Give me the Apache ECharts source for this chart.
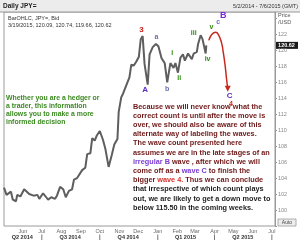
<!DOCTYPE html>
<html>
<head>
<meta charset="utf-8">
<script src="https://cdn.jsdelivr.net/npm/echarts@6/dist/echarts.min.js"></script>
<style>
  html, body { margin: 0; padding: 0; background: #fff; }
  #chart { width: 300px; height: 243px; }
</style>
</head>
<body>
<div id="chart"></div>
<script>
// daily JPY= closes (roughly two points a week)
const priceDates = [
  '2014-05-02', '2014-05-06', '2014-05-09', '2014-05-13', '2014-05-16', '2014-05-21', '2014-05-23', '2014-05-28',
  '2014-06-03', '2014-06-06', '2014-06-11', '2014-06-13', '2014-06-18', '2014-06-24', '2014-06-27',
  '2014-07-03', '2014-07-08', '2014-07-11', '2014-07-16', '2014-07-22', '2014-07-25', '2014-07-30',
  '2014-08-04', '2014-08-08', '2014-08-13', '2014-08-18', '2014-08-21', '2014-08-26', '2014-08-29',
  '2014-09-03', '2014-09-08', '2014-09-11', '2014-09-16', '2014-09-19', '2014-09-23', '2014-09-26',
  '2014-10-01', '2014-10-06', '2014-10-10', '2014-10-15', '2014-10-20', '2014-10-24', '2014-10-29', '2014-10-31',
  '2014-11-04', '2014-11-07', '2014-11-12', '2014-11-17', '2014-11-20', '2014-11-24', '2014-11-28',
  '2014-12-02', '2014-12-05', '2014-12-08', '2014-12-11', '2014-12-16', '2014-12-19', '2014-12-24', '2014-12-29',
  '2015-01-02', '2015-01-07', '2015-01-12', '2015-01-16', '2015-01-21', '2015-01-26', '2015-01-29',
  '2015-02-02', '2015-02-06', '2015-02-10', '2015-02-13', '2015-02-18', '2015-02-24', '2015-02-27',
  '2015-03-04', '2015-03-06', '2015-03-10', '2015-03-13', '2015-03-18', '2015-03-19',
]
const priceValues = [
  102.8, 101.9, 102.0, 102.3, 101.3, 101.1, 101.9, 101.7,
  102.6, 102.5, 102.0, 102.1, 101.8, 101.9, 101.4,
  102.1, 101.6, 101.3, 101.6, 101.4, 101.8, 102.9,
  102.6, 101.6, 102.4, 102.6, 103.8, 104.0, 103.9,
  105.0, 105.3, 107.0, 107.1, 109.0, 108.7, 109.3,
  109.9, 108.8, 107.6, 105.4, 106.9, 108.2, 108.9, 112.3,
  114.1, 114.6, 115.6, 116.6, 118.2, 118.1, 118.6,
  119.2, 121.4, 121.8, 118.3, 115.7, 119.5, 120.4, 120.8,
  120.5, 119.0, 118.4, 116.0, 118.4, 117.8, 118.4,
  117.2, 119.1, 119.5, 118.7, 119.6, 118.9, 119.6,
  119.8, 120.8, 121.9, 121.4, 119.6, 120.62,
]
const lastClose = 120.62

// red projection arrow (wave v up, then wave C down)
const projDates = ['2015-03-23', '2015-03-28', '2015-04-03', '2015-04-07', '2015-04-12', '2015-04-15', '2015-04-18', '2015-04-20', '2015-04-22']
const projValues = [121.25, 122.0, 122.25, 122.0, 121.0, 119.7, 118.0, 116.5, 115.2]

// wave count labels
const waveNames = ['3', 'A', 'a', 'b', 'i', 'ii', 'iii', 'iv', 'v', 'c', 'B', 'C', '4']
const waveDates = ['2014-12-06', '2014-12-12', '2014-12-30', '2015-01-16', '2015-01-24', '2015-02-04', '2015-02-27', '2015-03-21', '2015-03-27', '2015-04-07', '2015-04-15', '2015-04-25', '2015-04-27']
const waveValues = [122.6, 115.1, 121.6, 115.2, 119.7, 116.5, 122.1, 118.9, 122.9, 123.5, 124.3, 114.3, 113.3]

const yTicks = [100, 102, 104, 106, 108, 110, 112, 114, 116, 118, 120, 122]
const monthNames = ['Jan', 'Feb', 'Mar', 'Apr', 'May', 'Jun', 'Jul', 'Aug', 'Sep', 'Oct', 'Nov', 'Dec']
const quarterLabels = ['Q2 2014', 'Q3 2014', 'Q4 2014', 'Q1 2015', 'Q2 2015']
const quarterMids = ['2014-05-31', '2014-08-15', '2014-11-15', '2015-02-14', '2015-05-16']
const quarterStarts = ['2014-07-01', '2014-10-01', '2015-01-01', '2015-04-01', '2015-07-01']

const greenNote = [
  'Whether you are a hedger or',
  'a trader, this information',
  'allows you to make a more',
  'informed decision',
]
const mainNote = [
  'Because we will never know what the',
  'correct count is until after the move is',
  'over, we should also be aware of this',
  'alternate way of labeling the waves.',
  'The wave count presented here',
  'assumes we are in the late stages of an',
  '{p|irregular B} wave , after which we will',
  'come off as a {p|wave C} to finish the',
  'bigger {r|wave 4.} Thus we can conclude',
  '{k|that irrespective of which count plays}',
  '{k|out, we are likely to get a down move to}',
  '{k|below 115.50 in the coming weeks.}',
]

const FONT = 'Liberation Sans, Arial, sans-serif'
const NOTE_FONT = 'bold 7.3px ' + FONT
const waveStyle = {
  '3': { color: '#d0201a', size: 8 },
  'A': { color: '#5a2cc8', size: 8 },
  'a': { color: '#6c6ca8', size: 7 },
  'b': { color: '#6c6ca8', size: 7 },
  'i': { color: '#2e8a10', size: 7 },
  'ii': { color: '#2e8a10', size: 7 },
  'iii': { color: '#2e8a10', size: 7 },
  'iv': { color: '#2e8a10', size: 7 },
  'v': { color: '#2e8a10', size: 7 },
  'c': { color: '#6c6cc0', size: 7 },
  'B': { color: '#8026d6', size: 9 },
  'C': { color: '#5a2cc8', size: 8 },
  '4': { color: '#d0201a', size: 7 },
}

const chart = echarts.init(document.getElementById('chart'))

const priceData = priceDates.map((d, i) => [d, priceValues[i]])
const projData = projDates.map((d, i) => {
  const item = { value: [d, projValues[i]] }
  if (i === projDates.length - 1) {
    item.symbol = 'triangle'
    item.symbolSize = [6, 6]
    item.symbolRotate = 180
  }
  return item
})
const waveData = waveNames.map((name, i) => {
  const s = waveStyle[name]
  return {
    name,
    value: [waveDates[i], waveValues[i]],
    label: { color: s.color, fontSize: s.size },
  }
})

const DAY = 24 * 3600 * 1000

chart.setOption({
  animation: false,
  grid: { left: 4, right: 25, top: 12, bottom: 17, show: true, borderColor: '#9a9a9a', borderWidth: 1 },
  xAxis: {
    type: 'time',
    min: '2014-05-02',
    max: '2015-07-06',
    minInterval: 28 * DAY,
    maxInterval: 31 * DAY,
    axisLine: { show: false },
    axisTick: { show: false },
    splitLine: { show: false },
    axisLabel: {
      fontSize: 5.5,
      color: '#6a6a6a',
      fontFamily: FONT,
      margin: 2,
      hideOverlap: false,
      formatter: (v) => monthNames[new Date(v).getMonth()],
    },
  },
  yAxis: {
    type: 'value',
    position: 'right',
    min: 98,
    max: 124.8,
    interval: 2,
    axisLine: { show: true, lineStyle: { color: '#9a9a9a' } },
    axisTick: { show: true, length: 2, lineStyle: { color: '#9a9a9a' } },
    splitLine: { show: false },
    axisLabel: {
      fontSize: 5.5,
      color: '#8a8a8a',
      fontFamily: FONT,
      margin: 3,
      showMaxLabel: false,
      formatter: (v) => (yTicks.includes(v) ? String(v) : ''),
    },
  },
  series: [
    {
      name: 'JPY=',
      type: 'line',
      data: priceData,
      showSymbol: false,
      symbol: 'none',
      lineStyle: { color: '#5e5e5e', width: 2 },
    },
    {
      name: 'projection',
      type: 'line',
      data: projData,
      smooth: 0.5,
      symbol: 'none',
      showSymbol: true,
      itemStyle: { color: '#c8291f' },
      lineStyle: { color: '#c8291f', width: 1.5 },
    },
    {
      name: 'waves',
      type: 'scatter',
      data: waveData,
      symbolSize: 1,
      itemStyle: { color: 'rgba(0,0,0,0)' },
      z: 5,
      label: {
        show: true,
        position: 'inside',
        fontFamily: FONT,
        fontWeight: 'bold',
        textBorderWidth: 0,
        textShadowBlur: 0,
        opacity: 1,
        formatter: (p) => p.name,
      },
    },
  ],
  graphic: [
    { type: 'rect', shape: { x: 0, y: 0, width: 300, height: 12 }, style: { fill: '#ececec' } },
    { type: 'line', shape: { x1: 0, y1: 12, x2: 300, y2: 12 }, style: { stroke: '#9a9a9a', lineWidth: 1 } },
    { type: 'text', x: 3, y: 6, style: { text: 'Daily JPY=', font: 'bold 6.5px ' + FONT, fill: '#222', verticalAlign: 'middle' } },
    { type: 'text', x: 298, y: 6, style: { text: '5/2/2014 - 7/6/2015 (GMT)', font: '5.5px ' + FONT, fill: '#333', align: 'right', verticalAlign: 'middle' } },
    { type: 'text', x: 278, y: 15.5, style: { text: 'Price', font: '5.5px ' + FONT, fill: '#555', verticalAlign: 'middle' } },
    { type: 'text', x: 278, y: 22.5, style: { text: '/USD', font: '5.5px ' + FONT, fill: '#555', verticalAlign: 'middle' } },
    { type: 'text', x: 8, y: 18, style: { text: 'BarOHLC, JPY=, Bid', font: '5.5px ' + FONT, fill: '#333', verticalAlign: 'middle' } },
    { type: 'text', x: 8, y: 25, style: { text: '3/19/2015, 120.09, 120.74, 119.66, 120.62', font: '5.5px ' + FONT, fill: '#333', verticalAlign: 'middle' } },
    {
      type: 'text', x: 6, y: 93.6,
      style: { text: greenNote.join('\n'), font: 'bold 6.9px ' + FONT, fill: '#3c8a22', lineHeight: 8.2 },
    },
    {
      type: 'text', x: 133, y: 102,
      style: {
        text: mainNote.join('\n'),
        font: NOTE_FONT,
        fill: '#6e1818',
        lineHeight: 9.2,
        rich: {
          p: { fill: '#7a3cd4', font: NOTE_FONT, lineHeight: 9.2 },
          r: { fill: '#d8302a', font: NOTE_FONT, lineHeight: 9.2 },
          k: { fill: '#1e1e1e', font: NOTE_FONT, lineHeight: 9.2 },
        },
      },
    },
    { type: 'rect', shape: { x: 278, y: 219, width: 18, height: 7 }, style: { fill: '#eeeeee', stroke: '#9a9a9a', lineWidth: 0.8 } },
    { type: 'text', x: 287, y: 222.5, style: { text: 'Auto', font: '5px ' + FONT, fill: '#444', align: 'center', verticalAlign: 'middle' } },
  ],
})

// quarter row and last-price box placed through the axes
const extra = []
quarterLabels.forEach((q, i) => {
  const x = chart.convertToPixel({ gridIndex: 0 }, [quarterMids[i], 110])[0]
  extra.push({ type: 'text', x, y: 237.5, style: { text: q, font: 'bold 5.5px ' + FONT, fill: '#333', align: 'center', verticalAlign: 'middle' } })
})
quarterStarts.forEach((d) => {
  const x = chart.convertToPixel({ gridIndex: 0 }, [d, 110])[0]
  extra.push({ type: 'line', shape: { x1: x, y1: 234.5, x2: x, y2: 240 }, style: { stroke: '#555', lineWidth: 0.8 } })
})
const yLast = chart.convertToPixel({ gridIndex: 0 }, [priceDates[priceDates.length - 1], lastClose])[1]
extra.push({ type: 'rect', shape: { x: 275, y: yLast - 3.5, width: 23, height: 7 }, style: { fill: '#1a1a1a' } })
extra.push({ type: 'text', x: 286.5, y: yLast, style: { text: String(lastClose), font: 'bold 5.5px ' + FONT, fill: '#fff', align: 'center', verticalAlign: 'middle' } })

chart.setOption({ graphic: extra.map((g, i) => Object.assign({ id: 'extra' + i }, g)) })
</script>
</body>
</html>
